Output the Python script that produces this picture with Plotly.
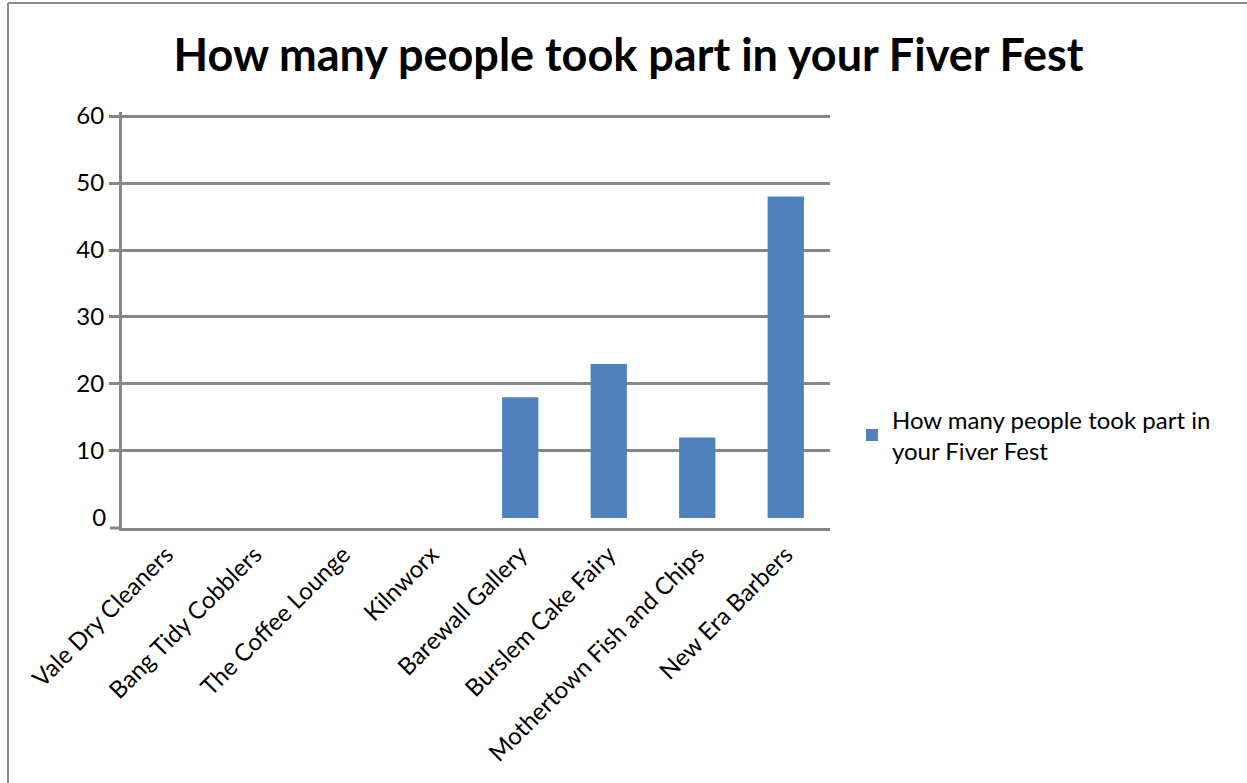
import plotly.graph_objects as go

categories = ["Vale Dry Cleaners", "Bang Tidy Cobblers", "The Coffee Lounge", "Kilnworx",
              "Barewall Gallery", "Burslem Cake Fairy", "Mothertown Fish and Chips", "New Era Barbers"]
values = [0, 0, 0, 0, 18, 23, 12, 48]
title_text = "How many people took part in your Fiver Fest"
legend_text = "How many people took part in<br>your Fiver Fest"
grid_ticks = [10, 20, 30, 40, 50, 60]
zero_tick = [0]

GRAY = "#868686"
FONT = "Lato"

fig = go.Figure()
fig.add_trace(go.Bar(
    x=categories, y=values, name=legend_text,
    marker=dict(color="#4F81BD", line=dict(width=0)),
    showlegend=True,
))
# invisible trace to carry second y axis (0 label)
fig.add_trace(go.Scatter(x=categories[:1], y=[0], yaxis="y2", mode="markers",
                         marker=dict(opacity=0), showlegend=False, hoverinfo="skip"))

yrange = [-1.5, 60.6]
fig.update_layout(
    width=1247, height=783,
    margin=dict(l=122, r=417, t=112, b=255),
    paper_bgcolor="white", plot_bgcolor="white",
    title=dict(text="<b>" + title_text + "</b>", x=0.504, xanchor="center",
               y=1 - 55 / 783, yanchor="middle",
               font=dict(family=FONT, size=45, color="black")),
    font=dict(family=FONT, size=24, color="black"),
    bargap=0.59,
    xaxis=dict(
        showline=True, linecolor=GRAY, linewidth=3, showgrid=False,
        tickangle=-45, ticks="", tickfont=dict(family=FONT, size=24, color="black"),
        zeroline=False,
    ),
    yaxis=dict(
        range=yrange, tickvals=grid_ticks, showgrid=True, gridcolor=GRAY, gridwidth=3,
        showline=True, linecolor=GRAY, linewidth=3, ticks="outside", ticklen=10,
        tickwidth=3, tickcolor=GRAY, layer="above traces", zeroline=False,
        tickfont=dict(family=FONT, size=24, color="black"),
    ),
    yaxis2=dict(
        range=yrange, overlaying="y", side="left", tickvals=zero_tick,
        showgrid=False, showline=False, zeroline=False, ticks="outside", ticklen=10,
        tickcolor="rgba(0,0,0,0)", tickfont=dict(family=FONT, size=24, color="black"),
    ),
    legend=dict(x=1.031, y=0.223, xanchor="left", yanchor="middle",
                font=dict(family=FONT, size=24, color="black"), itemwidth=30,
                bgcolor="rgba(0,0,0,0)"),
    shapes=[
        # outer chart border (left and top edges)
        dict(type="line", xref="paper", yref="paper", x0=-0.161, x1=-0.161, y0=1.262, y1=-0.7,
             line=dict(color="#8c8c8c", width=2)),
        dict(type="line", xref="paper", yref="paper", x0=-0.161, x1=1.7, y0=1.262, y1=1.262,
             line=dict(color="#8c8c8c", width=2)),
        # small extension of category axis left of value axis
        dict(type="line", xref="paper", yref="paper", x0=-0.017, x1=0, y0=0, y1=0,
             line=dict(color=GRAY, width=3)),
    ],
)

fig.write_html("out.html")
